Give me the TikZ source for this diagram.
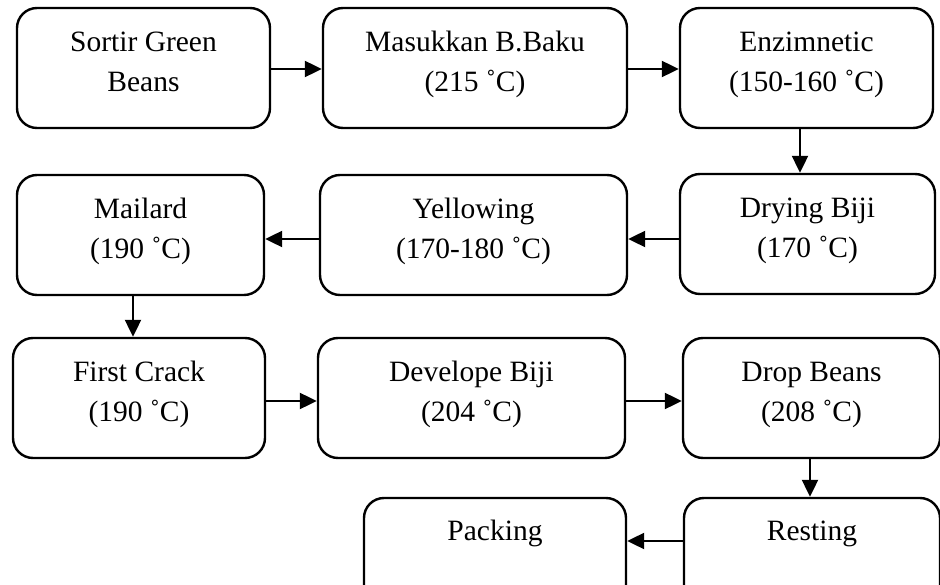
\documentclass[tikz,border=0pt]{standalone}
\usepackage{fontspec}
\setmainfont{Liberation Serif}
\usetikzlibrary{arrows.meta}
% step caption: first line is the baseline of the box
\newcommand\steplabel[1]{\parbox[t]{320pt}{\centering\fontsize{29.5}{40}\selectfont #1}}
\begin{document}
\begin{tikzpicture}[x=1pt,y=-1pt,
  stepbox/.style={draw, line width=2.4pt, rounded corners=20pt, minimum height=120pt, inner sep=0pt},
  steptext/.style={anchor=base, inner sep=0pt},
  flow/.style={line width=2.2pt, -{Triangle[length=17pt,width=16pt]}}]
\useasboundingbox (0,0) rectangle (940,585);

% process steps
\node[stepbox, minimum width=253pt] (b1)  at (143.5,68)  {};
\node[stepbox, minimum width=304pt] (b2)  at (475,68)    {};
\node[stepbox, minimum width=253pt] (b3)  at (806.5,68)  {};
\node[stepbox, minimum width=255pt] (b4)  at (807.5,234) {};
\node[stepbox, minimum width=307pt] (b5)  at (473.5,235) {};
\node[stepbox, minimum width=247pt] (b6)  at (140.5,235) {};
\node[stepbox, minimum width=252pt] (b7)  at (139,398)   {};
\node[stepbox, minimum width=307pt] (b8)  at (471.5,398) {};
\node[stepbox, minimum width=257pt] (b9)  at (811.5,398) {};
\node[stepbox, minimum width=256pt] (b10) at (812,558)   {};
\node[stepbox, minimum width=262pt] (b11) at (495,558)   {};

% captions
\node[steptext] (t1)  at ([yshift=-45pt]b1.north)  {\steplabel{Sortir Green\\Beans}};
\node[steptext] (t2)  at ([yshift=-45pt]b2.north)  {\steplabel{Masukkan B.Baku\\(215 ˚C)}};
\node[steptext] (t3)  at ([yshift=-45pt]b3.north)  {\steplabel{Enzimnetic\\(150-160 ˚C)}};
\node[steptext] (t4)  at ([yshift=-45pt]b4.north)  {\steplabel{Drying Biji\\(170 ˚C)}};
\node[steptext] (t5)  at ([yshift=-45pt]b5.north)  {\steplabel{Yellowing\\(170-180 ˚C)}};
\node[steptext] (t6)  at ([yshift=-45pt]b6.north)  {\steplabel{Mailard\\(190 ˚C)}};
\node[steptext] (t7)  at ([yshift=-45pt]b7.north)  {\steplabel{First Crack\\(190 ˚C)}};
\node[steptext] (t8)  at ([yshift=-45pt]b8.north)  {\steplabel{Develope Biji\\(204 ˚C)}};
\node[steptext] (t9)  at ([yshift=-45pt]b9.north)  {\steplabel{Drop Beans\\(208 ˚C)}};
\node[steptext] (t10) at ([yshift=-44pt]b10.north) {\steplabel{Resting}};
\node[steptext] (t11) at ([yshift=-44pt]b11.north) {\steplabel{Packing}};

% connector guide lines
\coordinate (r1) at (0,69);
\coordinate (r2) at (0,239);
\coordinate (r3) at (0,401);
\coordinate (r4) at (0,541);
\coordinate (c1) at (800,0);
\coordinate (c2) at (133,0);
\coordinate (c3) at (810,0);

% flow
\draw[flow] (b1.east |- r1) -- (b2.west |- r1);
\draw[flow] (b2.east |- r1) -- (b3.west |- r1);
\draw[flow] (b3.south -| c1) -- (b4.north -| c1);
\draw[flow] (b4.west |- r2) -- (b5.east |- r2);
\draw[flow] (b5.west |- r2) -- (b6.east |- r2);
\draw[flow] (b6.south -| c2) -- (b7.north -| c2);
\draw[flow] (b7.east |- r3) -- (b8.west |- r3);
\draw[flow] (b8.east |- r3) -- (b9.west |- r3);
\draw[flow] (b9.south -| c3) -- (b10.north -| c3);
\draw[flow] (b10.west |- r4) -- (b11.east |- r4);
\end{tikzpicture}
\end{document}
